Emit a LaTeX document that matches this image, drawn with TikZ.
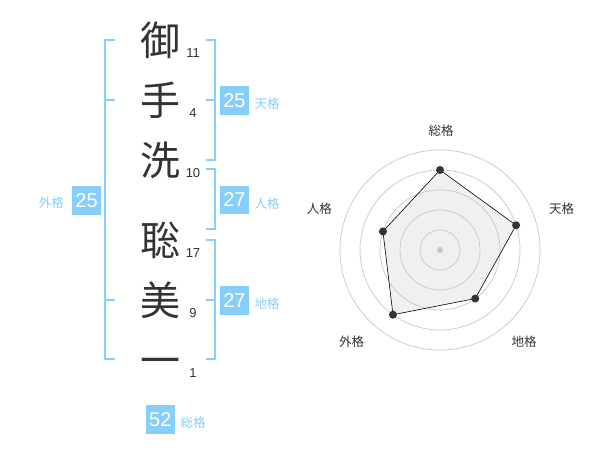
\documentclass[tikz,border=0pt]{standalone}
\usepackage{fontspec}
\setmainfont{Liberation Sans}
\newfontfamily\jpfont{Noto Sans CJK JP}
\usepackage{xcolor}
\usetikzlibrary{positioning}
\definecolor{skyblue}{HTML}{87CEFA}
\definecolor{inkgray}{HTML}{333333}
\tikzset{kanji/.style={font=\jpfont\fontsize{40}{40}\selectfont,text=inkgray,inner sep=0pt,text height=35.2pt,text depth=4.8pt},
 strokes/.style={font=\fontsize{13}{13}\selectfont,text=inkgray,inner sep=0pt},
 bracket/.style={draw=skyblue,line width=2pt},
 scorebox/.style={fill=skyblue,text=white,minimum width=28.7pt,minimum height=28.7pt,inner sep=0pt,font=\fontsize{20}{20}\selectfont},
 kakulabel/.style={text=skyblue,font=\jpfont\fontsize{12.5}{12.5}\selectfont,inner sep=0pt},
 axislabel/.style={text=inkgray,font=\jpfont\fontsize{12.5}{12.5}\selectfont,inner sep=0pt},
 ring/.style={draw=black!22,line width=0.7pt},
 dot/.style={circle,fill=inkgray,inner sep=0pt,minimum size=8pt},
 }

\begin{document}
\begin{tikzpicture}[x=1pt,y=-1pt]
        \useasboundingbox (0,0) rectangle (600,470);
        % name column
        \foreach \ch/\n/\y [count=\i] in {御/11/40, 手/4/100, 洗/10/160, 聡/17/240, 美/9/300, 一/1/360} {
            \node[kanji] (k\i) at (160, \y) {\ch};
            \node[strokes] (s\i) at (193, \y + 13) {\n};
        }

        % brackets
        \draw[bracket] (115, 40) -| (105, 359.3) -- (115, 359.3);
        \draw[bracket] (105, 100) -- (115, 100);
        \draw[bracket] (105, 300) -- (115, 300);
        \draw[bracket] (205.7, 40) -| (215, 160) -- (205.7, 160);
        \draw[bracket] (205.7, 100) -- (215, 100);
        \draw[bracket] (205.7, 169.3) -| (215, 229.3) -- (205.7, 229.3);
        \draw[bracket] (205.7, 240) -| (215, 359.3) -- (205.7, 359.3);
        \draw[bracket] (205.7, 300) -- (215, 300);

        \node[scorebox] (ten) at (234.4, 100.3) {25};
        \node[kakulabel, right=5.5pt of ten, yshift=-3.5pt] (tenlbl) {天格};
        \node[scorebox] (jin) at (234.4, 200) {27};
        \node[kakulabel, right=5.5pt of jin, yshift=-3.5pt] (jinlbl) {人格};
        \node[scorebox] (chi) at (234.4, 300.3) {27};
        \node[kakulabel, right=5.5pt of chi, yshift=-3.5pt] (chilbl) {地格};
        \node[scorebox] (gai) at (86.6, 200.3) {25};
        \node[kakulabel, left=8pt of gai, yshift=-2.5pt] (gailbl) {外格};
        \node[scorebox] (sou) at (160.3, 419.3) {52};
        \node[kakulabel, right=5.5pt of sou, yshift=-3.5pt] (soulbl) {総格};

        % radar
        \coordinate (c) at (440, 250);
        \foreach \a/\r [count=\i] in {-90/80, -18/80, 54/60, 126/80, 198/60} {
            \coordinate (p\i) at ([shift={(\a:\r)}]c);
        }
        \fill[black!6] (p1) -- (p2) -- (p3) -- (p4) -- (p5) -- cycle;
        \foreach \r in {20, 40, 60, 80, 100} {
            \draw[ring] (c) circle (\r);
        }
        \node[circle, fill=black!22, inner sep=0pt, minimum size=6pt] (mid) at (c) {};
        \draw[black, line width=0.6pt] (p1) -- (p2) -- (p3) -- (p4) -- (p5) -- cycle;
        \foreach \i in {1, ..., 5} {
            \node[dot] (d\i) at (p\i) {};
        }
        \node[axislabel] (ax1) at (441, 130.7) {総格};
        \node[axislabel] (ax2) at (561.7, 208.3) {天格};
        \node[axislabel] (ax3) at (524, 342) {地格};
        \node[axislabel] (ax4) at (351.7, 342) {外格};
        \node[axislabel] (ax5) at (319.3, 208.3) {人格};
    \end{tikzpicture}
\end{document}
